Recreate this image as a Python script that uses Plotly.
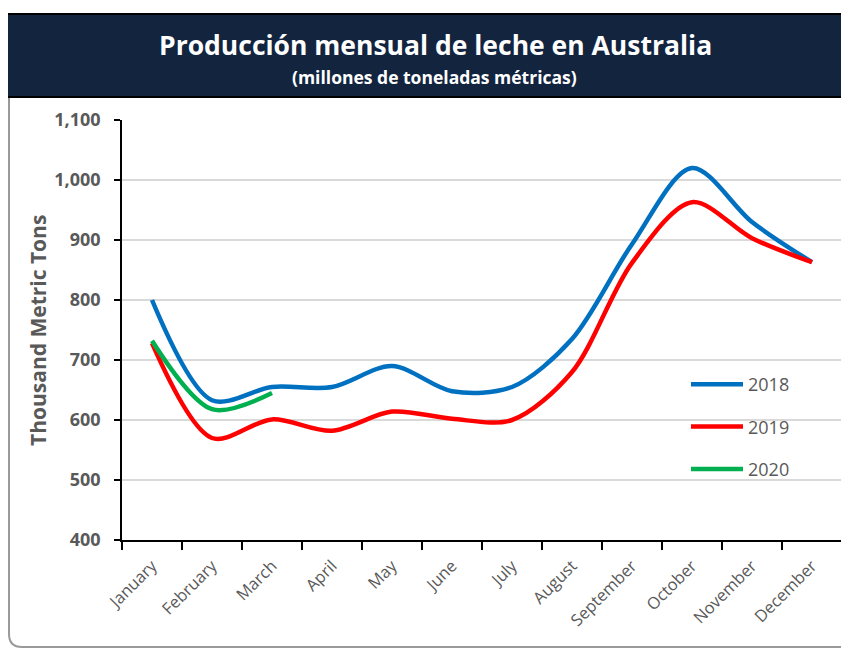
import plotly.graph_objects as go

months = ["January", "February", "March", "April", "May", "June",
          "July", "August", "September", "October", "November", "December"]
y2018 = [800, 633, 655, 655, 690, 648, 655, 735, 893, 1020, 930, 863]
y2019 = [728, 570, 601, 582, 614, 602, 600, 680, 862, 963, 903, 863]
y2020 = [732, 618, 645]
series_names = ["2018", "2019", "2020"]
colors = ["#0070C0", "#FF0000", "#00B050"]

# page body has an 8px margin: convert screen coords to figure coords
OFF = 8
W, H = 849, 648
L, T = 122 - OFF, 120 - OFF
R = W - (842 - OFF)
B = H - (540 - OFF)
pw, ph = W - L - R, H - T - B


def px_x(sx):
    return (sx - OFF - L) / pw


def px_y(sy):
    return (H - B - (sy - OFF)) / ph


fig = go.Figure()
for name, vals, col in zip(series_names, [y2018, y2019, y2020], colors):
    fig.add_trace(go.Scatter(
        x=months[:len(vals)], y=vals, mode="lines", name=name,
        legendgroup=name,
        line=dict(color=col, width=4.5, shape="spline", smoothing=0.9),
    ))

gray = "#595959"
font_fam = "Open Sans, Noto Sans, DejaVu Sans, sans-serif"

shapes = [
    # outer chart frame (left side with rounded bottom corner)
    dict(type="path", xref="paper", yref="paper",
         path=f"M {px_x(9)},{px_y(97)} L {px_x(9)},{px_y(634)} Q {px_x(9)},{px_y(647)} {px_x(22)},{px_y(647)} L {px_x(870)},{px_y(647)}",
         line=dict(color="#9a9a9a", width=2), layer="below"),
    # title box
    dict(type="rect", xref="paper", yref="paper",
         x0=px_x(5), x1=px_x(870), y0=px_y(97), y1=px_y(14),
         fillcolor="#13243F", line=dict(color="#000000", width=2), layer="below"),
]

annotations = [
    dict(text="<b>Producción mensual de leche en Australia</b>", xref="paper", yref="paper",
         x=px_x(435), y=px_y(45), showarrow=False, xanchor="center", yanchor="middle",
         font=dict(family=font_fam, size=26.5, color="white")),
    dict(text="<b>(millones de toneladas métricas)</b>", xref="paper", yref="paper",
         x=px_x(434), y=px_y(77), showarrow=False, xanchor="center", yanchor="middle",
         font=dict(family=font_fam, size=17.5, color="white")),
    dict(text="<b>Thousand Metric Tons</b>", xref="paper", yref="paper",
         x=px_x(38), y=px_y(331), showarrow=False, textangle=-90,
         xanchor="center", yanchor="middle",
         font=dict(family=font_fam, size=21, color=gray)),
]

fig.update_layout(
    width=W, height=H,
    margin=dict(l=L, r=R, t=T, b=B, pad=0),
    paper_bgcolor="white", plot_bgcolor="white",
    shapes=shapes, annotations=annotations,
    showlegend=True,
    legend=dict(x=px_x(686), y=px_y(366), xanchor="left", yanchor="top",
                bgcolor="rgba(0,0,0,0)", tracegroupgap=16,
                font=dict(family=font_fam, size=18, color=gray),
                itemwidth=52),
    xaxis=dict(
        type="category", categoryorder="array", categoryarray=months,
        range=[-0.5, 11.5], tickson="boundaries", ticks="outside",
        ticklen=8, tickcolor="black", tickwidth=1.5,
        showline=True, linecolor="black", linewidth=1.5,
        showgrid=False, tickangle=-45,
        tickfont=dict(family=font_fam, size=16.5, color=gray),
        ticklabelstandoff=8,
    ),
    yaxis=dict(
        range=[400, 1100], dtick=100, tick0=400, tickformat=",",
        ticks="outside", ticklen=6, tickcolor="black", tickwidth=1.5,
        showline=True, linecolor="black", linewidth=1.5,
        showgrid=True, gridcolor="#D9D9D9", gridwidth=1.5,
        zeroline=False,
        tickfont=dict(family=font_fam, size=18, color=gray, weight="bold"),
        ticklabelstandoff=10,
    ),
)

fig.write_html("out.html")
